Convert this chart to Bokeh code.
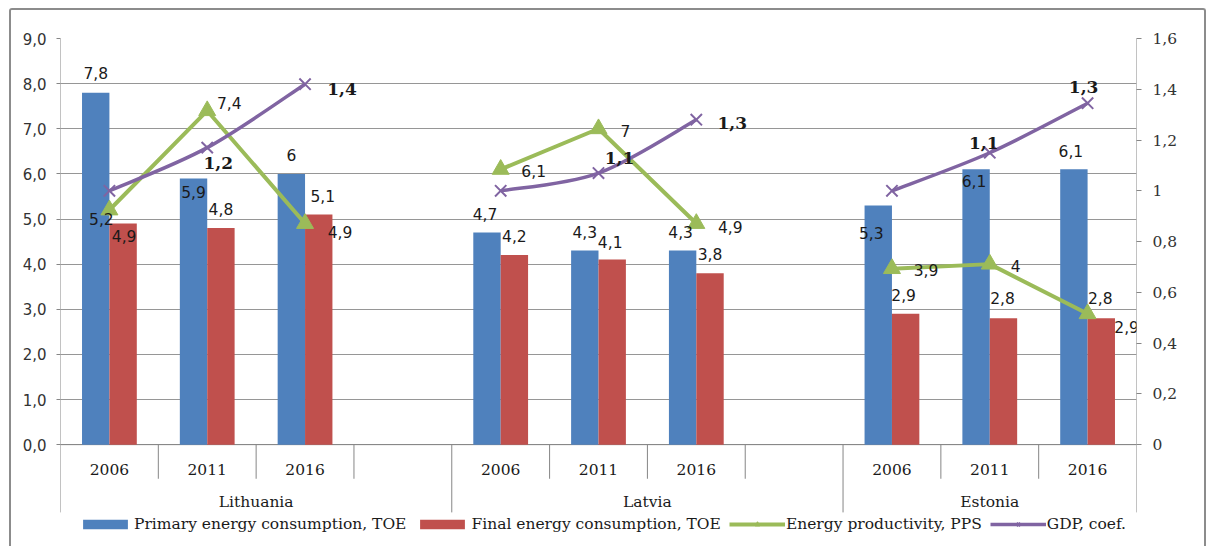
import numpy as np
from bokeh.plotting import figure
from bokeh.models import (ColumnDataSource, Range1d, LinearAxis, FixedTicker,
                          CustomJSTickFormatter, Legend, LegendItem)
from bokeh.core.properties import value
from bokeh.embed import file_html
from bokeh.resources import INLINE

# ---------------- data ----------------
countries = ["Lithuania", "Latvia", "Estonia"]
country_slots = [4, 4, 3]          # Lithuania and Latvia carry an empty 4th category
years = ["2006", "2011", "2016"]

primary_toe = [7.8, 5.9, 6.0, 4.7, 4.3, 4.3, 5.3, 6.1, 6.1]
final_toe = [4.9, 4.8, 5.1, 4.2, 4.1, 3.8, 2.9, 2.8, 2.8]
productivity_pps = [5.2, 7.4, 4.9, 6.1, 7.0, 4.9, 3.9, 4.0, 2.9]
gdp_coef = [1.0, 1.17, 1.42, 1.0, 1.07, 1.28, 1.0, 1.15, 1.345]
gdp_labels = ["", "1,2", "1,4", "", "1,1", "1,3", "", "1,1", "1,3"]

left_ticks = [0, 1, 2, 3, 4, 5, 6, 7, 8, 9]
right_ticks = [0, 0.2, 0.4, 0.6, 0.8, 1.0, 1.2, 1.4, 1.6]

series_names = ["Primary energy consumption, TOE", "Final energy consumption, TOE",
                "Energy productivity, PPS", "GDP, coef."]

# label offsets in screen pixels (dx, dy; dy positive = down)
primary_off = [(0, -20), (0, 14), (0, -19), (-2, -19), (0, -19), (-2, -19), (-7, 28), (-2, 12), (-3, -18)]
final_off = [(1, 12), (0, -19), (4, -18), (0, -19), (-2, -18), (0, -19), (-2, -19), (-1, -20), (-1, -20)]
prod_off = [(-8, 9), (22, -8), (35, 8), (33, 2), (27, 2), (34, 3), (34, 1), (26, 2), (39, 13)]
gdp_off = [(0, 0), (11, 15), (37, 5), (0, 0), (21, -15), (36, 3), (0, 0), (-6, -10), (-4, -16)]

# ---------------- layout / style ----------------
BLUE, RED, GREEN, PURPLE = "#4F81BD", "#C0504D", "#9BBB59", "#8064A2"
GRID = "#969696"
AXIS = "#868686"
TXT = "#1a1a1a"
SERIF = "DejaVu Serif"
SANS = "DejaVu Sans"

W, H = 1197, 538
BORDER = 2
FL, FR, FT, FB = 49, 72, 28, 11
frame_h = H - BORDER - FT - FB
LEFT_MAX, RIGHT_MAX = 9.0, 1.6
zero_px = 404.5
ppu = zero_px / LEFT_MAX
y_start = LEFT_MAX - frame_h / ppu
n_slots = sum(country_slots)

def fmt(v):
    return ("%g" % v).replace(".", ",")

# slot centers for each country/year
slot_x, country_idx = [], []
start = 0
for ci, n in enumerate(country_slots):
    for yi, yr in enumerate(years):
        slot_x.append(start + yi + 0.5)
        country_idx.append(ci)
    start += n
slot_x = np.array(slot_x)

bw = 0.28
src = ColumnDataSource(dict(
    xb=slot_x - bw / 2, xr=slot_x + bw / 2, x=slot_x,
    primary=primary_toe, final=final_toe, prod=productivity_pps, gdp=gdp_coef,
    pl=[fmt(v) for v in primary_toe], fl=[fmt(v) for v in final_toe],
    prl=[fmt(v) for v in productivity_pps], gl=gdp_labels,
    p_dx=[o[0] for o in primary_off], p_dy=[o[1] for o in primary_off],
    f_dx=[o[0] for o in final_off], f_dy=[o[1] for o in final_off],
    r_dx=[o[0] for o in prod_off], r_dy=[o[1] for o in prod_off],
    g_dx=[o[0] for o in gdp_off], g_dy=[o[1] for o in gdp_off],
))

p = figure(width=W, height=H, x_range=Range1d(0, n_slots), y_range=Range1d(y_start, LEFT_MAX),
           output_backend="svg", toolbar_location=None, x_axis_location=None,
           min_border_left=FL, min_border_right=FR, min_border_top=FT, min_border_bottom=FB)
p.outline_line_color = None
p.background_fill_color = "white"
p.border_fill_color = "white"
p.styles = {"border-style": "solid", "border-color": "#8c8c8c",
            "border-width": "%dpx %dpx 0px %dpx" % (BORDER, BORDER, BORDER),
            "border-radius": "3px 3px 0 0", "margin-left": "9px", "margin-top": "8px"}

# left axis
lt = FixedTicker(ticks=left_ticks)
p.yaxis.ticker = lt
p.ygrid.ticker = lt
p.yaxis.formatter = CustomJSTickFormatter(code="return tick.toFixed(1).replace('.', ',');")
p.ygrid.grid_line_color = GRID
p.xgrid.visible = False
for ax in p.yaxis:
    ax.axis_line_color = None
    ax.major_tick_line_color = AXIS
    ax.major_tick_in = 0
    ax.major_tick_out = 4
    ax.minor_tick_line_color = None
    ax.major_label_standoff = 10
    ax.major_label_text_font = SANS
    ax.major_label_text_font_size = "15px"
    ax.major_label_text_color = "#333333"

# right axis
p.extra_y_ranges = {"right": Range1d(y_start * RIGHT_MAX / LEFT_MAX, RIGHT_MAX)}
rax = LinearAxis(y_range_name="right", ticker=FixedTicker(ticks=right_ticks),
                 formatter=CustomJSTickFormatter(code="return (Math.round(tick*10)/10).toString().replace('.', ',');"))
rax.axis_line_color = None
rax.major_tick_line_color = AXIS
rax.major_tick_in = 0
rax.major_tick_out = 5
rax.minor_tick_line_color = None
rax.major_label_standoff = 11
rax.major_label_text_font = SERIF
rax.major_label_text_font_size = "15.5px"
rax.major_label_text_color = "#333333"
p.add_layout(rax, "right")

# category axis frame: separators, axis lines
short_bot = -34 / ppu
long_bot = -67.5 / ppu
sep_x0, sep_y0, sep_y1 = [], [], []
start = 0
for n in country_slots:
    for k in range(1, n):
        sep_x0.append(start + k); sep_y0.append(0); sep_y1.append(short_bot)
    start += n
for k, top in zip([0, country_slots[0], country_slots[0] + country_slots[1], n_slots],
                  [LEFT_MAX, 0, 0, LEFT_MAX]):
    sep_x0.append(k); sep_y0.append(top); sep_y1.append(long_bot)
p.segment(x0=sep_x0, y0=sep_y0, x1=sep_x0, y1=sep_y1, line_color=AXIS, line_width=1)
p.segment(x0=[0], y0=[0], x1=[n_slots], y1=[0], line_color=AXIS, line_width=1)

# year and country labels
p.text(x=slot_x, y=[0] * len(slot_x), text=[years[i % 3] for i in range(len(slot_x))],
       y_offset=24.5, text_align="center", text_baseline="middle",
       text_font=value(SERIF), text_font_size="15.5px", text_color=TXT)
g_centers = []
start = 0
for n in country_slots:
    g_centers.append(start + n / 2)
    start += n
p.text(x=g_centers, y=[0] * 3, text=countries, y_offset=57.5, text_align="center",
       text_baseline="middle", text_font=value(SERIF), text_font_size="15.5px", text_color=TXT)

# bars
rb = p.vbar(x="xb", top="primary", width=bw, bottom=0, source=src, fill_color=BLUE, line_color=None)
rr = p.vbar(x="xr", top="final", width=bw, bottom=0, source=src, fill_color=RED, line_color=None)

# smoothed (Excel-style) curve segments through the given points
def smooth_segments(xs, ys):
    xs = list(xs); ys = list(ys)
    n = len(xs)
    seg = dict(x0=[], y0=[], x1=[], y1=[], cx0=[], cy0=[], cx1=[], cy1=[])
    for i in range(n - 1):
        xa, ya = xs[max(i - 1, 0)], ys[max(i - 1, 0)]
        xb_, yb_ = xs[min(i + 2, n - 1)], ys[min(i + 2, n - 1)]
        seg["x0"].append(xs[i]); seg["y0"].append(ys[i])
        seg["x1"].append(xs[i + 1]); seg["y1"].append(ys[i + 1])
        seg["cx0"].append(xs[i] + (xs[i + 1] - xa) / 6); seg["cy0"].append(ys[i] + (ys[i + 1] - ya) / 6)
        seg["cx1"].append(xs[i + 1] - (xb_ - xs[i]) / 6); seg["cy1"].append(ys[i + 1] - (yb_ - ys[i]) / 6)
    return seg

# lines per country
green_r, purple_r = [], []
for ci in range(len(countries)):
    idx = [i for i, c in enumerate(country_idx) if c == ci]
    xs = slot_x[idx]
    gy = [productivity_pps[i] for i in idx]
    py = [gdp_coef[i] for i in idx]
    gl = p.line(xs, gy, line_color=GREEN, line_width=4)
    gm = p.scatter(xs, gy, marker="triangle", size=17, fill_color=GREEN, line_color=GREEN)
    pl = p.bezier(source=ColumnDataSource(smooth_segments(xs, py)), x0="x0", y0="y0", x1="x1", y1="y1",
                  cx0="cx0", cy0="cy0", cx1="cx1", cy1="cy1",
                  line_color=PURPLE, line_width=3.5, y_range_name="right")
    pm = p.scatter(xs, py, marker="x", size=16, line_color=PURPLE, line_width=2, y_range_name="right")
    green_r.append((gl, gm)); purple_r.append((pl, pm))

# data labels
lab = dict(text_align="center", text_baseline="middle", text_color=TXT)
p.text(x="xb", y="primary", text="pl", x_offset="p_dx", y_offset="p_dy", source=src,
       text_font=value(SANS), text_font_size="15.5px", **lab)
p.text(x="xr", y="final", text="fl", x_offset="f_dx", y_offset="f_dy", source=src,
       text_font=value(SANS), text_font_size="15.5px", **lab)
p.text(x="x", y="prod", text="prl", x_offset="r_dx", y_offset="r_dy", source=src,
       text_font=value(SANS), text_font_size="15.5px", **lab)
p.text(x="x", y="gdp", text="gl", x_offset="g_dx", y_offset="g_dy", source=src, y_range_name="right",
       text_font=value(SERIF), text_font_size="17px", text_font_style="bold", **lab)

# legend
legend = Legend(items=[
    LegendItem(label=series_names[0], renderers=[rb]),
    LegendItem(label=series_names[1], renderers=[rr]),
    LegendItem(label=series_names[2], renderers=list(green_r[0])),
    LegendItem(label=series_names[3], renderers=list(purple_r[0])),
], orientation="horizontal", location=(17, 4), glyph_width=56, glyph_height=12,
    label_standoff=1, spacing=8, padding=0, margin=0, label_height=18,
    background_fill_alpha=0, border_line_color=None,
    label_text_font=SERIF, label_text_font_size="15.5px", label_text_color=TXT)
p.add_layout(legend)

open("out.html", "w").write(file_html(p, INLINE))
